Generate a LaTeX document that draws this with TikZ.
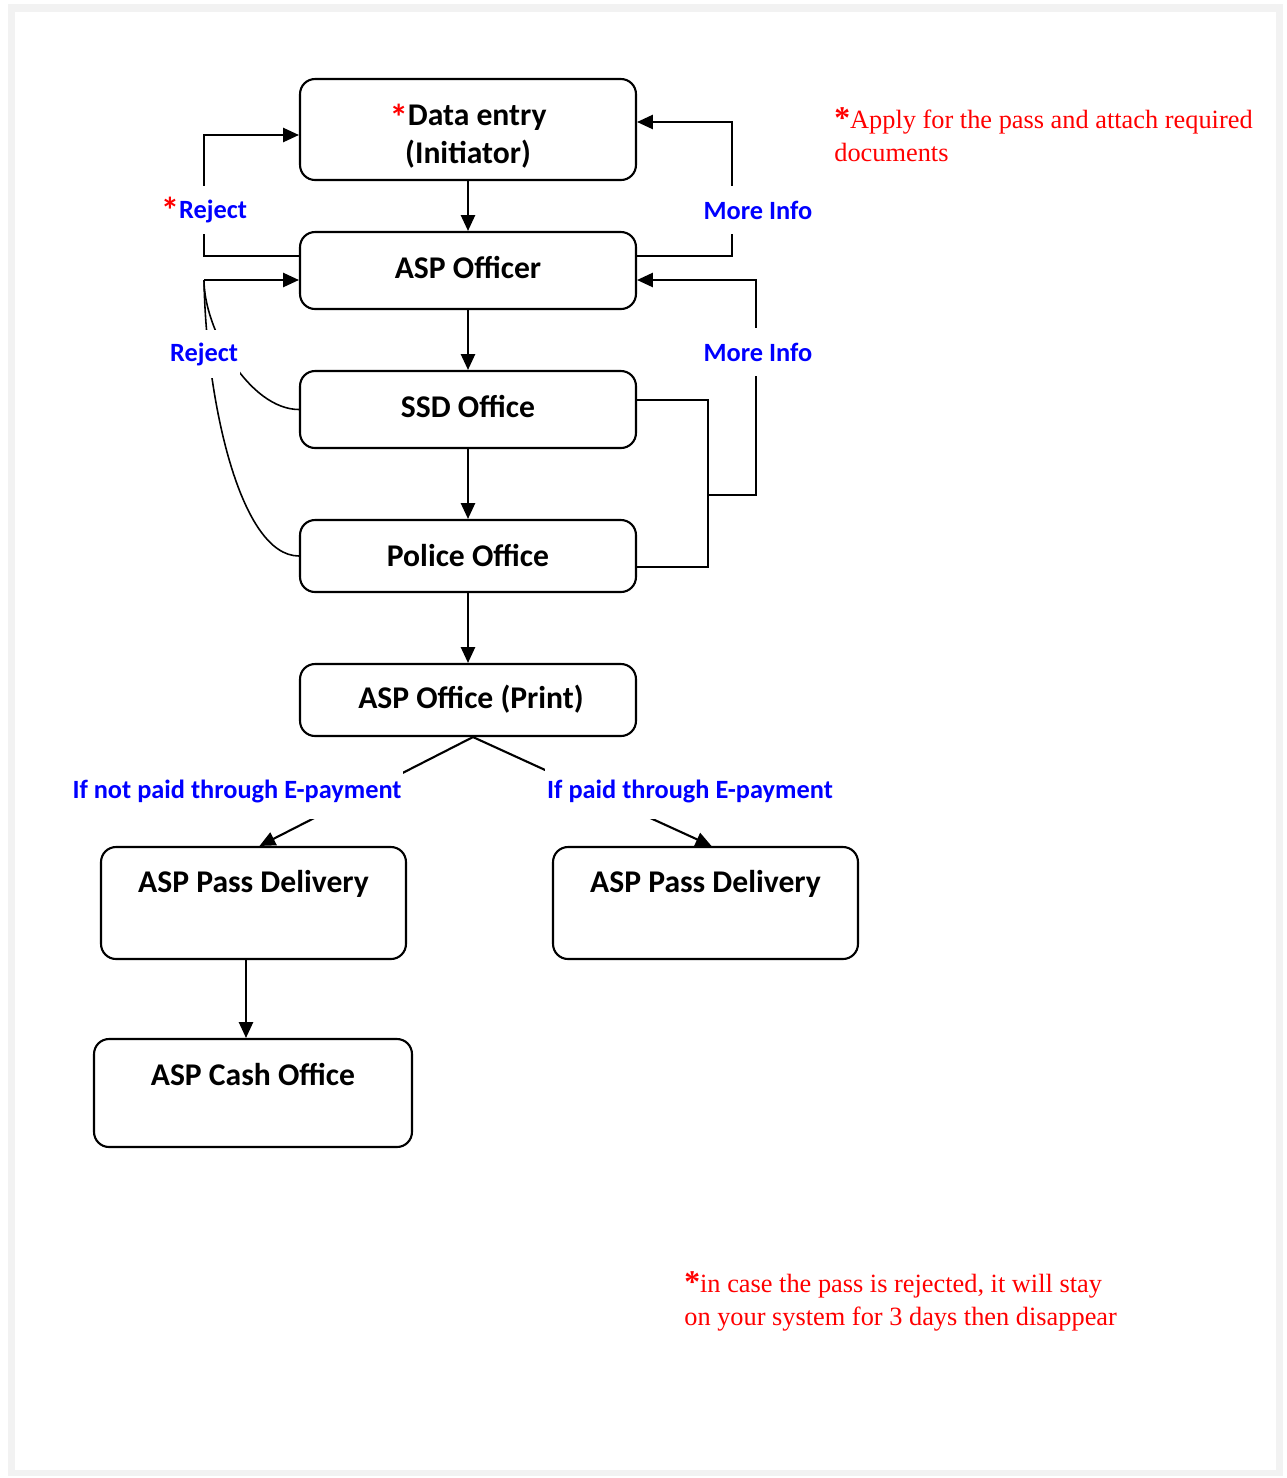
\documentclass[tikz,border=0pt]{standalone}
\usepackage{fontspec}
\setmainfont{Liberation Serif}
\newfontfamily\calibri{Carlito}
\usetikzlibrary{arrows.meta}
\definecolor{lblblue}{HTML}{0000FF}
\definecolor{notered}{HTML}{FF0000}
\definecolor{framegray}{HTML}{F2F2F2}
\newcommand{\redstar}{\textcolor{notered}{\raisebox{-2.5pt}{\bfseries\fontsize{21}{21}\selectfont *}}}

\begin{document}
\begin{tikzpicture}[x=0.02cm,y=-0.02cm,
		box/.style={draw,line width=1.2pt,rounded corners=0.3cm,fill=white,align=center,inner sep=0pt,
			font=\calibri\bfseries\fontsize{18}{21.6}\selectfont},
		boxtext/.style={inner sep=0pt,font=\calibri\bfseries\fontsize{18}{21.6}\selectfont},
		flow/.style={line width=1.2pt,-{Triangle[length=9pt,width=8pt]}},
		link/.style={line width=1.2pt},
		curveline/.style={line width=0.9pt},
		lbl/.style={fill=white,text=lblblue,inner sep=1pt,minimum height=0.96cm,
			font=\calibri\bfseries\fontsize{15}{18}\selectfont},
		note/.style={text=notered,align=left,inner sep=0pt,anchor=north west,
			font=\fontsize{15}{18.8}\selectfont}]
	\useasboundingbox (0,0) rectangle (1287,1478);
	\fill[framegray] (8,4) rectangle (1283,1476);
	\fill[white] (15,12) rectangle (1276,1470);

	\node[box,minimum width=6.72cm,minimum height=2.02cm] (entry) at (468,129.5) {};
	\node[boxtext,align=center] (entrytext) at (468,136) {\redstar Data entry\\(Initiator)};
	\node[box,minimum width=6.72cm,minimum height=1.54cm] (asp) at (468,270.5) {};
	\node[boxtext] (asptext) at (468,267) {ASP Officer};
	\node[box,minimum width=6.72cm,minimum height=1.54cm] (ssd) at (468,409.5) {};
	\node[boxtext] (ssdtext) at (468,406) {SSD Office};
	\node[box,minimum width=6.72cm,minimum height=1.44cm] (police) at (468,556) {};
	\node[boxtext] (policetext) at (468,555) {Police Office};
	\node[box,minimum width=6.72cm,minimum height=1.44cm] (print) at (468,700) {};
	\node[boxtext] (printtext) at (471,699) {ASP Office (Print)};
	\node[box,minimum width=6.1cm,minimum height=2.24cm] (passl) at (253.5,903) {};
	\node[box,minimum width=6.1cm,minimum height=2.24cm] (passr) at (705.5,903) {};
	\node[box,minimum width=6.36cm,minimum height=2.16cm] (cash) at (253,1093) {};
	\node[boxtext] (passltext) at ([yshift=-0.76cm]passl.north) {ASP Pass Delivery};
	\node[boxtext] (passrtext) at ([yshift=-0.76cm]passr.north) {ASP Pass Delivery};
	\node[boxtext] (cashtext) at ([yshift=-0.74cm]cash.north) {ASP Cash Office};

	\draw[flow] (entry) -- (asp);
	\draw[flow] (asp) -- (ssd);
	\draw[flow] (ssd) -- (police);
	\draw[flow] (police) -- (print);
	\coordinate (split) at ([xshift=0.1cm]print.south);
	\draw[flow] (split) -- ([xshift=0.12cm]passl.north);
	\draw[flow] (split) -- ([xshift=0.12cm]passr.north);
	\coordinate (down) at (246,0);
	\draw[flow] (passl.south -| down) -- (cash.north -| down);

	\draw[flow] (asp.west |- 0,256) -- (204,256) |- (entry.west |- 0,135);
	\draw[flow] (asp.east |- 0,256) -- (732,256) |- (entry.east |- 0,122);
	\draw[link] (ssd.east |- 0,400) -- (708,400) -- (708,567) -- (police.east |- 0,567);
	\draw[flow] (708,495) -- (756,495) |- (asp.east |- 0,280);
	\coordinate (rj) at (204,280);
	\draw[flow] (rj) -- (asp.west |- rj);
	\draw[curveline] (ssd.west) .. controls (250,409.5) and (204,330) .. (rj);
	\draw[curveline] (police.west) .. controls (240,556) and (206,400) .. (rj);

	\node[lbl] (reject1) at (204,210) {\redstar Reject};
	\node[lbl] (info1) at (758,210) {More Info};
	\node[lbl] (reject2) at (204,354) {Reject};
	\node[lbl] (info2) at (758,352) {More Info};
	\node[lbl,minimum height=1.12cm] (unpaid) at (237,791) {If not paid through E-payment};
	\node[lbl,minimum height=1.12cm] (paid) at (690,791) {If paid through E-payment};

	\node[note] (note1) at (834,107) {{\bfseries\fontsize{18}{18}\selectfont *}Apply for the pass and attach required\\documents};
	\node[note] (note2) at (684,1271) {{\bfseries\fontsize{18}{18}\selectfont *}in case the pass is rejected, it will stay\\on your system for 3 days then disappear};
\end{tikzpicture}
\end{document}
